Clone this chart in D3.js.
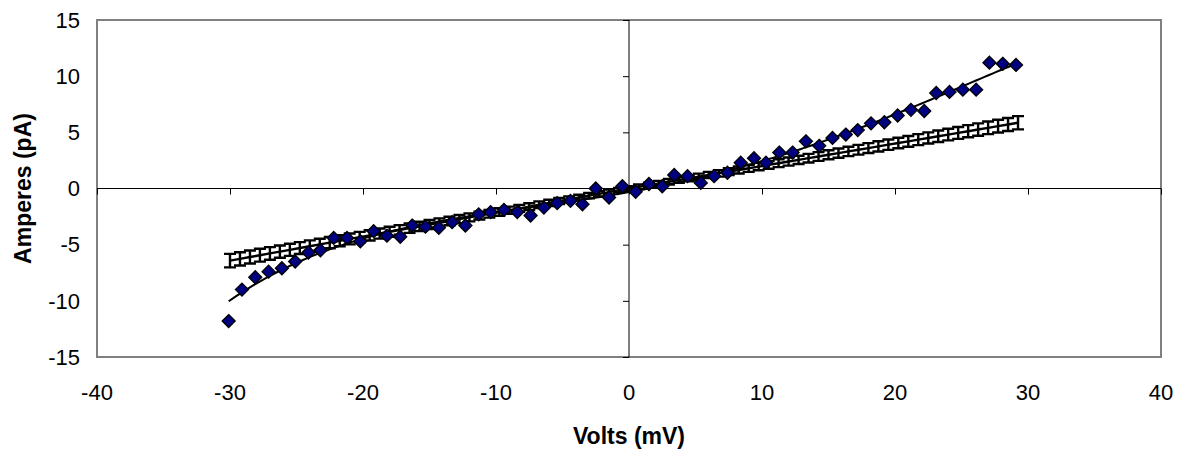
<!DOCTYPE html>
<html>
<head>
<meta charset="utf-8">
<script src="https://cdn.jsdelivr.net/npm/d3@7"></script>
<style>
  body { margin: 0; background: #fff; }
  text { font-family: "Liberation Sans", Arial, sans-serif; }
</style>
</head>
<body>
<script>
// measured points (diamonds)
var volts = [-30.1,-29.1,-28.1,-27.1,-26.1,-25.1,-24.1,-23.2,-22.2,-21.2,
  -20.2,-19.2,-18.2,-17.2,-16.3,-15.3,-14.3,-13.3,-12.3,-11.3,
  -10.4,-9.4,-8.4,-7.4,-6.4,-5.4,-4.4,-3.5,-2.5,-1.5,
  -0.5,0.5,1.5,2.5,3.4,4.4,5.4,6.4,7.4,8.4,
  9.4,10.3,11.3,12.3,13.3,14.3,15.3,16.3,17.2,18.2,
  19.2,20.2,21.2,22.2,23.1,24.1,25.1,26.1,27.1,28.1,29.1];
var amps = [-11.8,-9.0,-7.9,-7.4,-7.1,-6.5,-5.7,-5.5,-4.4,-4.4,
  -4.7,-3.8,-4.2,-4.3,-3.3,-3.4,-3.5,-3.0,-3.3,-2.3,
  -2.1,-1.9,-2.1,-2.4,-1.7,-1.3,-1.1,-1.4,0.0,-0.8,
  0.2,-0.3,0.4,0.2,1.2,1.1,0.5,1.1,1.4,2.3,
  2.7,2.3,3.2,3.2,4.2,3.8,4.5,4.8,5.2,5.8,
  5.9,6.5,7.0,6.9,8.5,8.6,8.8,8.8,11.2,11.1,11.0];

// predicted series with error bars (the ladder)
var predV = [-30,-29.25,-28.5,-27.75,-27,-26.25,-25.5,-24.75,-24,-23.25,
  -22.5,-21.75,-21,-20.25,-19.5,-18.75,-18,-17.25,-16.5,-15.75,
  -15,-14.25,-13.5,-12.75,-12,-11.25,-10.5,-9.75,-9,-8.25,
  -7.5,-6.75,-6,-5.25,-4.5,-3.75,-3,-2.25,-1.5,-0.75,
  0,0.75,1.5,2.25,3,3.75,4.5,5.25,6,6.75,
  7.5,8.25,9,9.75,10.5,11.25,12,12.75,13.5,14.25,
  15,15.75,16.5,17.25,18,18.75,19.5,20.25,21,21.75,
  22.5,23.25,24,24.75,25.5,26.25,27,27.75,28.5,29.25];
var predI = [-6.42,-6.26,-6.10,-5.94,-5.78,-5.62,-5.46,-5.30,-5.14,-4.98,
  -4.82,-4.65,-4.49,-4.33,-4.17,-4.01,-3.85,-3.69,-3.53,-3.37,
  -3.21,-3.05,-2.89,-2.73,-2.57,-2.41,-2.25,-2.09,-1.93,-1.77,
  -1.61,-1.44,-1.28,-1.12,-0.96,-0.80,-0.64,-0.48,-0.32,-0.16,
  0,0.15,0.30,0.45,0.60,0.75,0.90,1.05,1.20,1.35,
  1.50,1.65,1.80,1.95,2.10,2.25,2.40,2.55,2.70,2.85,
  3.00,3.15,3.30,3.45,3.60,3.75,3.90,4.05,4.20,4.35,
  4.50,4.65,4.80,4.95,5.10,5.25,5.40,5.55,5.70,5.85];
var predErr = [.60,.59,.58,.57,.56,.55,.54,.53,.52,.51,
  .50,.49,.48,.47,.46,.45,.44,.43,.42,.41,
  .40,.39,.38,.37,.36,.35,.34,.33,.32,.31,
  .30,.29,.28,.27,.26,.25,.24,.23,.22,.21,
  .20,.21,.22,.23,.24,.25,.26,.27,.28,.29,
  .30,.31,.32,.33,.34,.35,.36,.37,.38,.39,
  .40,.41,.42,.43,.44,.45,.46,.47,.48,.49,
  .50,.51,.52,.53,.54,.55,.56,.57,.58,.59];

var xTicks = [-40,-30,-20,-10,0,10,20,30,40];
var yTicks = [-15,-10,-5,0,5,10,15];

var W = 1185, H = 456;
var pL = 97, pR = 1161, pT = 20, pB = 357;

var svg = d3.select("body").append("svg")
  .attr("width", W).attr("height", H);
svg.append("rect").attr("width", W).attr("height", H).attr("fill", "#fff");

var x = d3.scaleLinear().domain([-40, 40]).range([pL, pR]);
var y = d3.scaleLinear().domain([-15, 15]).range([pB, pT]);

// plot area border
svg.append("rect")
  .attr("x", pL).attr("y", pT)
  .attr("width", pR - pL).attr("height", pB - pT)
  .attr("fill", "none").attr("stroke", "#808080").attr("stroke-width", 2);

// axes crossing at zero
svg.append("g").attr("transform", "translate(0," + y(0) + ")")
  .call(d3.axisBottom(x).tickValues(xTicks).tickSize(6).tickFormat(""))
  .call(g => g.select(".domain").attr("stroke", "#000").attr("d", "M" + pL + ",0H" + pR));
svg.append("g").attr("transform", "translate(" + x(0) + ",0)")
  .call(d3.axisLeft(y).tickValues(yTicks).tickSize(6).tickFormat(""))
  .call(g => g.select(".domain").attr("stroke", "#000").attr("d", "M0," + pT + "V" + pB));

// tick labels at plot edges
svg.append("g").selectAll("text").data(xTicks).join("text")
  .attr("x", d => x(d)).attr("y", 400)
  .attr("text-anchor", "middle").attr("font-size", 22).text(d => d);
svg.append("g").selectAll("text").data(yTicks).join("text")
  .attr("x", 80).attr("y", d => y(d)).attr("dy", "0.35em")
  .attr("text-anchor", "end").attr("font-size", 22).text(d => d);

// axis titles
svg.append("text").attr("x", x(0)).attr("y", 444)
  .attr("text-anchor", "middle").attr("font-size", 23).attr("font-weight", "bold")
  .text("Volts (mV)");
svg.append("text").attr("transform", "translate(31," + y(0) + ") rotate(-90)")
  .attr("text-anchor", "middle").attr("font-size", 23).attr("font-weight", "bold")
  .text("Amperes (pA)");

// ladder series: error bars + connecting line
var pred = predV.map((v, i) => ({v: v, i: predI[i], e: predErr[i]}));
var eg = svg.append("g").attr("stroke", "#000").attr("stroke-width", 2.4).attr("fill", "none");
eg.selectAll("path.bar").data(pred).join("path").attr("class", "bar")
  .attr("d", d => {
    var cx = x(d.v), y1 = y(d.i + d.e), y2 = y(d.i - d.e);
    return "M" + cx + "," + y1 + "V" + y2 +
      "M" + (cx - 6) + "," + y1 + "H" + (cx + 6) +
      "M" + (cx - 6) + "," + y2 + "H" + (cx + 6);
  });
eg.append("path").datum(pred)
  .attr("d", d3.line().x(d => x(d.v)).y(d => y(d.i)));

// polynomial trendline fitted to the measured points
function polyfit(xs, ys, deg) {
  var n = deg + 1, A = [], b = [];
  for (var r = 0; r < n; r++) {
    A.push([]); b.push(0);
    for (var c = 0; c < n; c++) A[r].push(0);
  }
  xs.forEach(function(xv, k) {
    var t = xv / 30;
    for (var r = 0; r < n; r++) {
      b[r] += ys[k] * Math.pow(t, r);
      for (var c = 0; c < n; c++) A[r][c] += Math.pow(t, r + c);
    }
  });
  for (var p = 0; p < n; p++) {
    for (var r = p + 1; r < n; r++) {
      var f = A[r][p] / A[p][p];
      for (var c = p; c < n; c++) A[r][c] -= f * A[p][c];
      b[r] -= f * b[p];
    }
  }
  var co = new Array(n).fill(0);
  for (var r = n - 1; r >= 0; r--) {
    var s = b[r];
    for (var c = r + 1; c < n; c++) s -= A[r][c] * co[c];
    co[r] = s / A[r][r];
  }
  return co;
}
var coef = polyfit(volts, amps, 4);
var vmin = d3.min(volts), vmax = d3.max(volts);
var trend = d3.range(0, 201).map(k => {
  var v = vmin + (vmax - vmin) * k / 200;
  return {v: v, i: coef.reduce((s, c, p) => s + c * Math.pow(v / 30, p), 0)};
});
svg.append("path").datum(trend)
  .attr("fill", "none").attr("stroke", "#000").attr("stroke-width", 2)
  .attr("d", d3.line().x(d => x(d.v)).y(d => y(d.i)));

// diamonds
svg.append("g").selectAll("path").data(volts).join("path")
  .attr("transform", (d, k) => "translate(" + x(d) + "," + y(amps[k]) + ")")
  .attr("d", "M0,-6.5L6.5,0L0,6.5L-6.5,0Z")
  .attr("fill", "#000080").attr("stroke", "#000").attr("stroke-width", 1.3);
</script>
</body>
</html>
